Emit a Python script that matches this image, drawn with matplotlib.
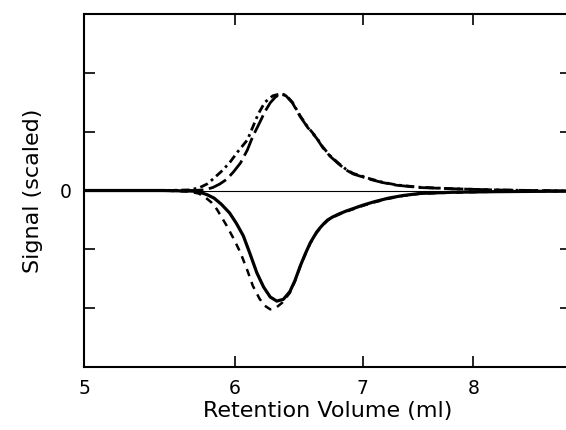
#!/usr/bin/env python
# -*- coding: utf-8 -*-
import numpy as np
import matplotlib
matplotlib.use("Agg")
import matplotlib.pyplot as plt
from matplotlib.ticker import NullLocator

# retention volume (ml) / scaled signal
up_dash_x = [5.0, 5.5, 5.7, 5.78, 5.84, 5.89, 5.94, 5.99, 6.04, 6.09, 6.13, 6.18, 6.22,
             6.26, 6.30, 6.34, 6.38, 6.43, 6.49, 6.55, 6.62, 6.67, 6.73, 6.80, 6.86, 6.92,
             7.0, 7.06, 7.17, 7.29, 7.5, 7.8, 8.2, 8.6, 9.0]
up_dash_y = [0.0, 0.0, 0.0, 0.01, 0.05, 0.11, 0.19, 0.32, 0.47, 0.69, 0.92, 1.15, 1.34,
             1.49, 1.59, 1.64, 1.61, 1.49, 1.26, 1.07, 0.89, 0.73, 0.58, 0.45, 0.35, 0.28,
             0.23, 0.19, 0.135, 0.09, 0.05, 0.03, 0.01, 0.0, -0.01]

up_dot_x = [5.0, 5.5, 5.68, 5.75, 5.80, 5.84, 5.90, 5.96, 6.02, 6.09, 6.13, 6.17, 6.22,
            6.28, 6.34, 6.38, 6.43, 6.49, 6.55, 6.62, 6.67, 6.73, 6.80, 6.86, 6.92,
            7.0, 7.06, 7.17, 7.29, 7.5, 7.8, 8.2, 8.6, 9.0]
up_dot_y = [0.0, 0.0, 0.01, 0.05, 0.11, 0.19, 0.32, 0.47, 0.66, 0.86, 1.08, 1.30, 1.50,
            1.61, 1.645, 1.62, 1.50, 1.27, 1.08, 0.90, 0.74, 0.59, 0.46, 0.36, 0.29,
            0.24, 0.20, 0.14, 0.095, 0.055, 0.03, 0.01, 0.0, -0.01]

low_solid_x = [5.0, 5.5, 5.7, 5.75, 5.80, 5.85, 5.90, 5.96, 6.01, 6.06, 6.11, 6.16, 6.21,
               6.26, 6.31, 6.36, 6.41, 6.45, 6.49, 6.53, 6.57, 6.62, 6.65, 6.68, 6.71, 6.75,
               6.80, 6.86, 6.93, 7.0, 7.1, 7.22, 7.35, 7.5, 7.8, 8.2, 9.0]
low_solid_y = [0.0, 0.0, -0.01, -0.03, -0.07, -0.13, -0.23, -0.38, -0.56, -0.77, -1.08, -1.40, -1.64,
               -1.81, -1.88, -1.85, -1.72, -1.53, -1.29, -1.08, -0.89, -0.71, -0.63, -0.56, -0.50, -0.45,
               -0.40, -0.35, -0.30, -0.25, -0.19, -0.13, -0.085, -0.05, -0.03, -0.02, -0.01]

low_dash_x = [5.0, 5.5, 5.68, 5.74, 5.78, 5.83, 5.87, 5.90, 5.94, 5.99, 6.04, 6.09, 6.13,
              6.18, 6.22, 6.26, 6.30, 6.35, 6.41, 6.45, 6.49, 6.53, 6.57, 6.62, 6.65, 6.68,
              6.71, 6.75, 6.80, 6.86, 6.93, 7.0, 7.1, 7.22, 7.35, 7.5, 7.8, 8.2, 9.0]
low_dash_y = [0.0, 0.0, -0.02, -0.05, -0.10, -0.20, -0.32, -0.44, -0.60, -0.82, -1.06, -1.36, -1.62,
              -1.84, -1.96, -2.02, -2.00, -1.91, -1.74, -1.54, -1.30, -1.09, -0.90, -0.72, -0.64, -0.57,
              -0.51, -0.46, -0.41, -0.36, -0.31, -0.26, -0.20, -0.14, -0.09, -0.055, -0.035, -0.02, -0.01]

x_ticks = [5, 6, 7, 8, 9]
x_tick_labels = ["5", "6", "7", "8", ""]
y_ticks = [-2, -1, 0, 1, 2]
y_tick_labels = ["", "", "0", "", ""]


def main():
  fig = plt.figure(figsize=(5.66, 4.30), dpi=100)
  ax = fig.add_axes([84 / 566, 63 / 430, 487 / 566, 353 / 430])

  ax.axhline(0, color="black", lw=0.8)
  ax.plot(up_dot_x, up_dot_y, color="black", lw=2.0, dashes=(3, 1.5, 1, 1.5))
  ax.plot(up_dash_x, up_dash_y, color="black", lw=2.0, dashes=(7, 2))
  ax.plot(low_dash_x, low_dash_y, color="black", lw=1.8, dashes=(3, 2.5))
  ax.plot(low_solid_x, low_solid_y, color="black", lw=2.3, solid_joinstyle="round")

  ax.set_xscale("log")
  ax.set_xlim(5, 9)
  ax.set_ylim(-3, 3)
  ax.set_xticks(x_ticks)
  ax.set_xticklabels(x_tick_labels)
  ax.xaxis.set_minor_locator(NullLocator())
  ax.set_yticks(y_ticks)
  ax.set_yticklabels(y_tick_labels)
  ax.tick_params(direction="in", length=8, width=1.2, top=True, right=True,
                 labelsize=13.5, pad=9)
  for s in ax.spines.values():
    s.set_linewidth(1.5)

  ax.set_xlabel("Retention Volume (ml)", fontsize=16, labelpad=2)
  ax.set_ylabel("Signal (scaled)", fontsize=16, labelpad=12)

  fig.savefig("out.png", dpi=100)


if __name__ == "__main__":
  main()
